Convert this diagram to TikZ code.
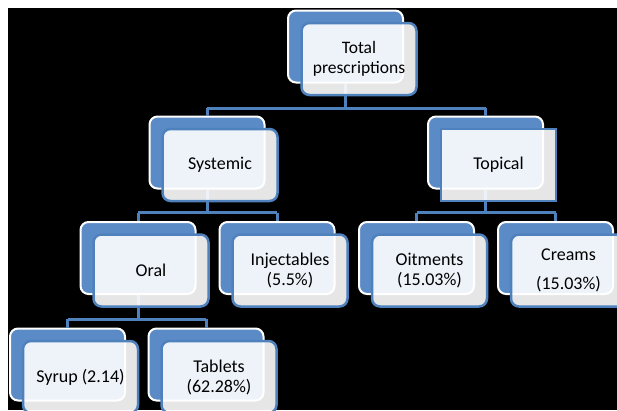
\documentclass[tikz,border=0pt]{standalone}
\usepackage{fontspec}
\setmainfont{Carlito}
\definecolor{backblue}{HTML}{5B8BC6}
\definecolor{edgeblue}{HTML}{4F81BD}
\begin{document}
\begin{tikzpicture}[x=1pt,y=-1pt,
  backbox/.style={draw=white, line width=2pt, fill=backblue, rounded corners=8pt,
    minimum width=115pt, minimum height=72pt, inner sep=0pt},
  frontbox/.style={draw=edgeblue, line width=2.5pt, fill=white, fill opacity=0.9,
    text opacity=1, rounded corners=8pt, minimum width=115pt, minimum height=72pt,
    inner sep=0pt, align=center, font=\fontsize{18}{20}\selectfont, text=black},
  conn/.style={draw=edgeblue, line width=3pt}]
\useasboundingbox (0,0) rectangle (617,410);
\begin{scope}
\clip (0,0) rectangle (617,410);
\fill[white] (0,0) rectangle (617,410);
\fill[black] (8,8) rectangle (617,410);
% back boxes
\node[backbox] (tb) at (345.5,46.5) {};
\node[backbox] (sb) at (207,152.5) {};
\node[backbox] (pb) at (485.5,152.5) {};
\node[backbox] (ob) at (138,258) {};
\node[backbox] (ib) at (277,258) {};
\node[backbox] (mb) at (416.5,258) {};
\node[backbox] (cb) at (555.5,258) {};
\node[backbox] (yb) at (67.5,364.5) {};
\node[backbox] (ab) at (206,364.5) {};
% connectors
\draw[conn] (tb.south) -- ++(0,24.5) coordinate (h1);
\draw[conn] (h1 -| sb.north) -- (h1 -| pb.north);
\draw[conn] (h1 -| sb.north) -- (sb.north);
\draw[conn] (h1 -| pb.north) -- (pb.north);
\draw[conn] (sb.south) -- ++(0,23) coordinate (h2);
\draw[conn] (h2 -| ob.north) -- (h2 -| ib.north);
\draw[conn] (h2 -| ob.north) -- (ob.north);
\draw[conn] (h2 -| ib.north) -- (ib.north);
\draw[conn] (pb.south) -- ++(0,23) coordinate (h3);
\draw[conn] (h3 -| mb.north) -- (h3 -| cb.north);
\draw[conn] (h3 -| mb.north) -- (mb.north);
\draw[conn] (h3 -| cb.north) -- (cb.north);
\draw[conn] (ob.south) -- ++(0,24) coordinate (h4);
\draw[conn] (h4 -| yb.north) -- (h4 -| ab.north);
\draw[conn] (h4 -| yb.north) -- (yb.north);
\draw[conn] (h4 -| ab.north) -- (ab.north);
% front boxes
\node[frontbox, font=\fontsize{17.5}{20}\selectfont] (tf) at (359,59) {Total\\prescriptions};
\node[frontbox] (sf) at (220,165) {Systemic};
\node[frontbox, sharp corners] (pf) at (498.5,165) {Topical};
\node[frontbox] (of) at (151,270.5) {Oral};
\node[frontbox] (if) at (290,270.5) {Injectables\\(5.5\%)};
\node[frontbox] (mf) at (429.5,270.5) {Oitments\\(15.03\%)};
\node[frontbox] (cf) at (568.5,270.5) {Creams\\[9pt](15.03\%)};
\node[frontbox] (yf) at (80.5,377) {Syrup (2.14)};
\node[frontbox] (af) at (219,377) {Tablets\\(62.28\%)};
\end{scope}
\end{tikzpicture}
\end{document}
